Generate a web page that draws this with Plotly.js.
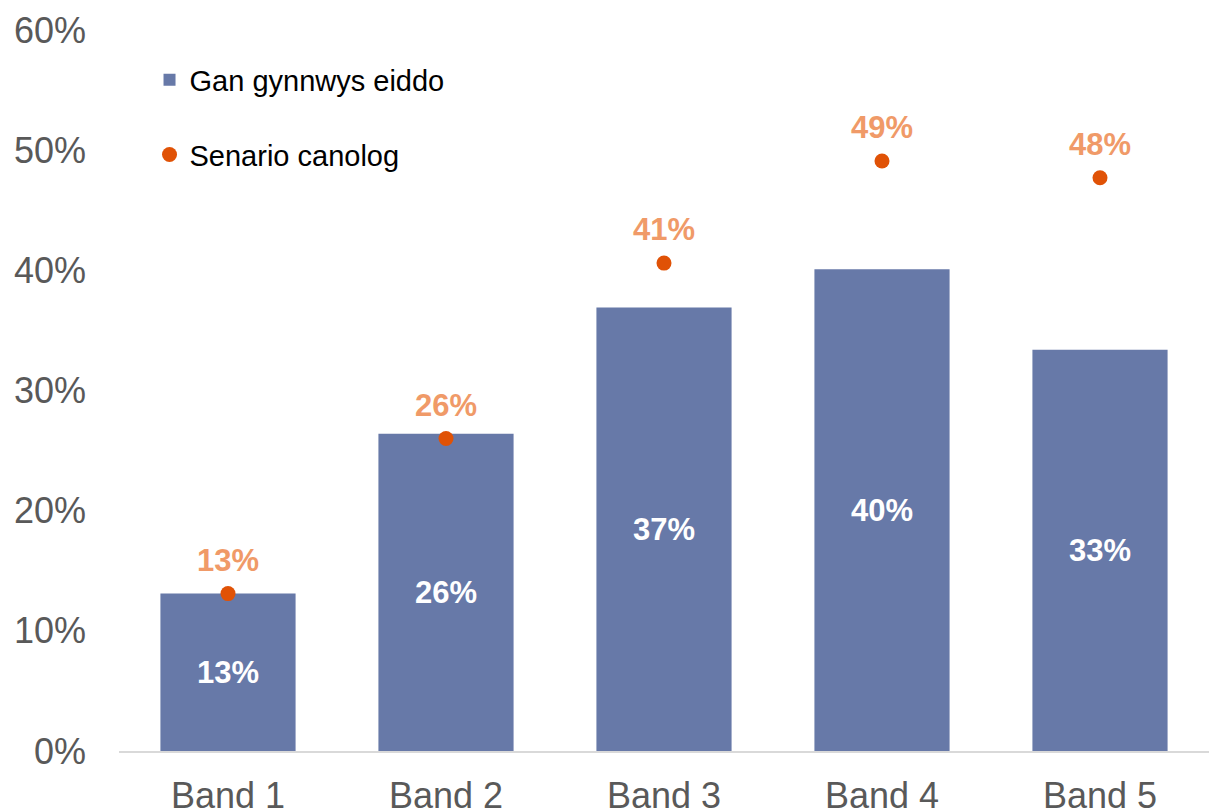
<!DOCTYPE html>
<html>
<head>
<meta charset="utf-8">
<script src="https://cdn.plot.ly/plotly-3.0.1.min.js"></script>
<style>
  html, body { margin: 0; padding: 0; background: #fff; }
  #chart { width: 1209px; height: 810px; }
</style>
</head>
<body>
<div id="chart"></div>
<script>
const categories = ["Band 1", "Band 2", "Band 3", "Band 4", "Band 5"];
const barName = "Gan gynnwys eiddo";
const barValues = [0.131, 0.264, 0.369, 0.401, 0.334];
const dotName = "Senario canolog";
const dotValues = [0.131, 0.260, 0.406, 0.491, 0.477];
const yTickValues = [0, 0.1, 0.2, 0.3, 0.4, 0.5, 0.6];

const fmt = v => Math.round(v * 100) + "%";
const FONT = "Liberation Sans, Arial, sans-serif";

const barTrace = {
  type: "bar",
  name: barName,
  x: categories,
  y: barValues,
  width: 0.62,
  marker: { color: "#6779A8" },
  text: barValues.map(fmt),
  textposition: "inside",
  insidetextanchor: "middle",
  textangle: 0,
  constraintext: "none",
  textfont: { family: FONT, size: 31, color: "#ffffff", weight: "bold" },
  legendgroup: "a",
  hoverinfo: "skip"
};

const dotTrace = {
  type: "scatter",
  mode: "markers",
  name: dotName,
  x: categories,
  y: dotValues,
  marker: { color: "#E05206", size: 15 },
  cliponaxis: false,
  legendgroup: "b",
  hoverinfo: "skip"
};

const dotLabels = categories.map((c, i) => ({
  x: c,
  y: dotValues[i],
  xref: "x",
  yref: "y",
  text: fmt(dotValues[i]),
  showarrow: false,
  yanchor: "bottom",
  yshift: 14,
  font: { family: FONT, size: 31, color: "#F09A68", weight: "bold" }
}));

const layout = {
  width: 1209,
  height: 810,
  margin: { l: 119, r: 0, t: 30, b: 59 },
  paper_bgcolor: "#ffffff",
  plot_bgcolor: "#ffffff",
  font: { family: FONT, color: "#595959" },
  showlegend: true,
  legend: {
    x: 0.028, y: 0.966, xanchor: "left", yanchor: "top",
    font: { family: FONT, size: 29, color: "#000000" },
    tracegroupgap: 34,
    bgcolor: "rgba(0,0,0,0)",
    itemwidth: 30
  },
  annotations: dotLabels,
  xaxis: {
    type: "category",
    range: [-0.5, 4.5],
    showline: true,
    linecolor: "#D9D9D9",
    linewidth: 1.5,
    showgrid: false,
    zeroline: false,
    ticks: "",
    ticklabelstandoff: 12,
    tickfont: { family: FONT, size: 36, color: "#595959" },
    fixedrange: true
  },
  yaxis: {
    range: [0, 0.6],
    tickvals: yTickValues,
    tickformat: ".0%",
    showline: false,
    showgrid: false,
    zeroline: false,
    ticks: "",
    ticklabelstandoff: 32,
    tickfont: { family: FONT, size: 36, color: "#595959" },
    fixedrange: true
  },
  bargap: 0.38
};

Plotly.newPlot("chart", [barTrace, dotTrace], layout, { displayModeBar: false, staticPlot: true });
</script>
</body>
</html>
